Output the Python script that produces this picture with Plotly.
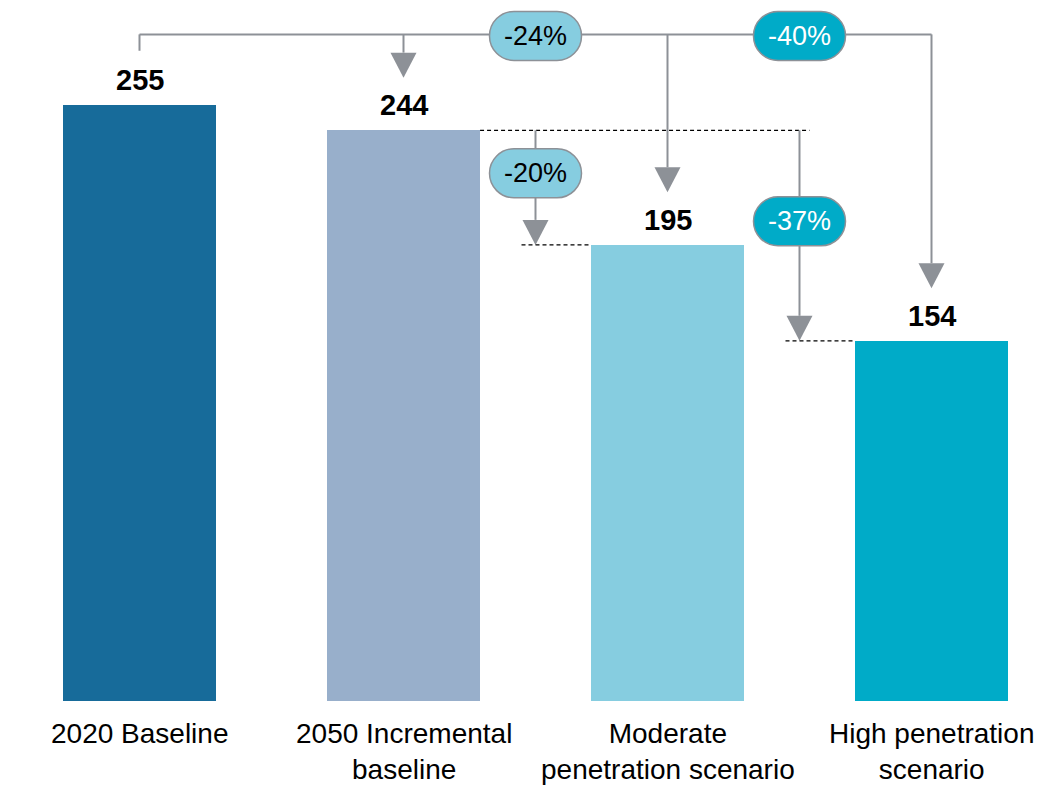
import plotly.graph_objects as go

# ---- data -------------------------------------------------------------
categories = [
    "2020 Baseline",
    "2050 Incremental<br>baseline",
    "Moderate<br>penetration scenario",
    "High penetration<br>scenario",
]
values = [255, 244, 195, 154]
bar_colors = ["#176B9A", "#98AFCB", "#86CDE0", "#00ABC8"]
pill_text_colors = {2: "#000000", 3: "#FFFFFF"}

# reductions shown in the pills: (reference bar, scenario bar)
top_pairs = [(0, 2), (0, 3)]
lower_pairs = [(1, 2), (1, 3)]

# ---- layout geometry --------------------------------------------------
W, H = 1049, 787
MB = 86
PLOT_H = H - MB
Y_MAX = 299.7
PY = PLOT_H / Y_MAX          # pixels per value unit
PX = 264.0                   # pixels per category step
X0 = -139.5 / PX
X1 = X0 + W / PX
BAR_W = 0.58

FONT = "Liberation Sans, Arial, Helvetica, sans-serif"
LINE_C = "#8D9197"
LINE_W = 2


def dx(p):
    return p / PX


def dy(p):
    return p / PY


def pct(a, b):
    return f"{round((values[b] - values[a]) / values[a] * 100):d}%"


fig = go.Figure(
    go.Bar(
        x=list(range(len(values))),
        y=values,
        width=BAR_W,
        marker=dict(color=bar_colors, line=dict(width=0)),
        hoverinfo="skip",
    )
)

shapes = []
annotations = []


def line(x0, y0, x1, y1, **kw):
    d = dict(type="line", xref="x", yref="y", x0=x0, y0=y0, x1=x1, y1=y1,
             line=dict(color=LINE_C, width=LINE_W), layer="above")
    d["line"].update(kw.get("line", {}))
    shapes.append(d)


def arrow_head(x, tip):
    hw, hh = dx(13), dy(25)
    shapes.append(dict(
        type="path", xref="x", yref="y", layer="above",
        path=f"M {x - hw},{tip + hh} L {x + hw},{tip + hh} L {x},{tip} Z",
        fillcolor=LINE_C, line=dict(width=0),
    ))
    return tip + hh


def pill(x, y, text, fill, tcolor):
    a, b = 46.0, 24.5
    s = a - b
    k = 0.5523 * b
    path = (
        f"M {-s},{-b} L {s},{-b} C {s + k},{-b} {a},{-k} {a},0 "
        f"C {a},{k} {s + k},{b} {s},{b} L {-s},{b} "
        f"C {-s - k},{b} {-a},{k} {-a},0 C {-a},{-k} {-s - k},{-b} {-s},{-b} Z"
    )
    shapes.append(dict(
        type="path", xref="x", yref="y", xsizemode="pixel", ysizemode="pixel",
        xanchor=x, yanchor=y, path=path, fillcolor=fill, layer="above",
        line=dict(color=LINE_C, width=1.5),
    ))
    annotations.append(dict(
        x=x, y=y, xref="x", yref="y", text=text, showarrow=False,
        font=dict(family=FONT, size=27, color=tcolor),
        xanchor="center", yanchor="middle", yshift=0,
    ))


# ---- upper bracket: 2020 baseline against the scenarios ----------------
TOP_Y = max(values) + 30
ARROW_GAP = 22.5
line(0, TOP_Y, len(values) - 1, TOP_Y)
line(0, TOP_Y, 0, values[0] + 23)
for i in range(1, len(values)):
    tip = values[i] + ARROW_GAP
    base = arrow_head(i, tip)
    line(i, TOP_Y, i, base)

# ---- lower bracket: 2050 incremental baseline against the scenarios ----
LOW_Y = values[1]
dash = dict(color="#000000", width=1.2, dash="4px,3px")
line(1 + BAR_W / 2, LOW_Y, 2.5 + dx(10), LOW_Y, line=dash)
for (a, b), xm in zip(lower_pairs, (1.5, 2.5)):
    base = arrow_head(xm, values[b])
    line(xm, LOW_Y, xm, base)
    line(xm - dx(14), values[b], b - BAR_W / 2, values[b], line=dash)

# pills (drawn after the lines so they sit on top)
for (a, b), xm in zip(top_pairs, (1.5, 2.5)):
    pill(xm, TOP_Y - dy(1.5), pct(a, b), bar_colors[b], pill_text_colors[b])
for (a, b), xm, off in zip(lower_pairs, (1.5, 2.5), (43, 91)):
    pill(xm, LOW_Y - dy(off), pct(a, b), bar_colors[b], pill_text_colors[b])

# ---- value labels ------------------------------------------------------
for i, v in enumerate(values):
    annotations.append(dict(
        x=i, y=v, xref="x", yref="y", text=f"<b>{v}</b>", showarrow=False,
        font=dict(family=FONT, size=29, color="#000000"),
        xanchor="center", yanchor="bottom", yshift=7,
    ))

# ---- category labels ---------------------------------------------------
for i, lab in enumerate(categories):
    annotations.append(dict(
        x=i, y=0, xref="x", yref="y", text=lab, showarrow=False,
        font=dict(family=FONT, size=28, color="#000000"),
        xanchor="center", yanchor="top", yshift=-15, align="center",
    ))

# baseline axis rule
shapes.append(dict(type="line", xref="paper", yref="y", x0=7 / W, x1=1,
                   y0=dy(-1), y1=dy(-1), line=dict(color="#000000", width=2),
                   layer="above"))

fig.update_layout(
    width=W, height=H,
    margin=dict(l=0, r=0, t=0, b=MB),
    paper_bgcolor="white", plot_bgcolor="white",
    showlegend=False,
    xaxis=dict(range=[X0, X1], visible=False, fixedrange=True),
    yaxis=dict(range=[0, Y_MAX], visible=False, fixedrange=True),
    shapes=shapes,
    annotations=annotations,
    bargap=0,
)

fig.write_html("out.html")
